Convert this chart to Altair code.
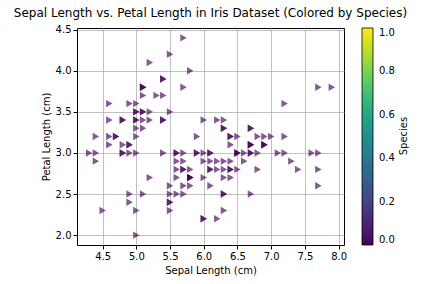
import altair as alt
import pandas as pd

sepal_length = [
    5.1, 4.9, 4.7, 4.6, 5.0, 5.4, 4.6, 5.0, 4.4, 4.9, 5.4, 4.8, 4.8, 4.3, 5.8, 5.7, 5.4, 5.1, 5.7, 5.1,
    5.4, 5.1, 4.6, 5.1, 4.8, 5.0, 5.0, 5.2, 5.2, 4.7, 4.8, 5.4, 5.2, 5.5, 4.9, 5.0, 5.5, 4.9, 4.4, 5.1,
    5.0, 4.5, 4.4, 5.0, 5.1, 4.8, 5.1, 4.6, 5.3, 5.0,
    7.0, 6.4, 6.9, 5.5, 6.5, 5.7, 6.3, 4.9, 6.6, 5.2, 5.0, 5.9, 6.0, 6.1, 5.6, 6.7, 5.6, 5.8, 6.2, 5.6,
    5.9, 6.1, 6.3, 6.1, 6.4, 6.6, 6.8, 6.7, 6.0, 5.7, 5.5, 5.5, 5.8, 6.0, 5.4, 6.0, 6.7, 6.3, 5.6, 5.5,
    5.5, 6.1, 5.8, 5.0, 5.6, 5.7, 5.7, 6.2, 5.1, 5.7,
    6.3, 5.8, 7.1, 6.3, 6.5, 7.6, 4.9, 7.3, 6.7, 7.2, 6.5, 6.4, 6.8, 5.7, 5.8, 6.4, 6.5, 7.7, 7.7, 6.0,
    6.9, 5.6, 7.7, 6.3, 6.7, 7.2, 6.2, 6.1, 6.4, 7.2, 7.4, 7.9, 6.4, 6.3, 6.1, 7.7, 6.3, 6.4, 6.0, 6.9,
    6.7, 6.9, 5.8, 6.8, 6.7, 6.7, 6.3, 6.5, 6.2, 5.9,
]
sepal_width = [
    3.5, 3.0, 3.2, 3.1, 3.6, 3.9, 3.4, 3.4, 2.9, 3.1, 3.7, 3.4, 3.0, 3.0, 4.0, 4.4, 3.9, 3.5, 3.8, 3.8,
    3.4, 3.7, 3.6, 3.3, 3.4, 3.0, 3.4, 3.5, 3.4, 3.2, 3.1, 3.4, 4.1, 4.2, 3.1, 3.2, 3.5, 3.6, 3.0, 3.4,
    3.5, 2.3, 3.2, 3.5, 3.8, 3.0, 3.8, 3.2, 3.7, 3.3,
    3.2, 3.2, 3.1, 2.3, 2.8, 2.8, 3.3, 2.4, 2.9, 2.7, 2.0, 3.0, 2.2, 2.9, 2.9, 3.1, 3.0, 2.7, 2.2, 2.5,
    3.2, 2.8, 2.5, 2.8, 2.9, 3.0, 2.8, 3.0, 2.9, 2.6, 2.4, 2.4, 2.7, 2.7, 3.0, 3.4, 3.1, 2.3, 3.0, 2.5,
    2.6, 3.0, 2.6, 2.3, 2.7, 3.0, 2.9, 2.9, 2.5, 2.8,
    3.3, 2.7, 3.0, 2.9, 3.0, 3.0, 2.5, 2.9, 2.5, 3.6, 3.2, 2.7, 3.0, 2.5, 2.8, 3.2, 3.0, 3.8, 2.6, 2.2,
    3.2, 2.8, 2.8, 2.7, 3.3, 3.2, 2.8, 3.0, 2.8, 3.0, 2.8, 3.8, 2.8, 2.8, 2.6, 3.0, 3.4, 3.1, 3.0, 3.1,
    3.1, 3.1, 2.7, 3.2, 3.3, 3.0, 2.5, 3.0, 3.4, 3.0,
]
species_code = [0] * len(sepal_length)

x_ticks = [4.5, 5.0, 5.5, 6.0, 6.5, 7.0, 7.5, 8.0]
y_ticks = [2.0, 2.5, 3.0, 3.5, 4.0, 4.5]
cbar_ticks = [0.0, 0.2, 0.4, 0.6, 0.8, 1.0]
cbar_title = ["Species"]

df = pd.DataFrame({"x": sepal_length, "y": sepal_width, "c": species_code})

font = "DejaVu Sans"

points = alt.Chart(df).mark_point(
    shape="triangle-right", filled=True, size=55, opacity=0.65, strokeWidth=0
).encode(
    x=alt.X("x:Q", scale=alt.Scale(domain=[4.12, 8.08], nice=False, zero=False),
            axis=alt.Axis(title="Sepal Length (cm)", values=x_ticks, format=".1f")),
    y=alt.Y("y:Q", scale=alt.Scale(domain=[1.88, 4.52], nice=False, zero=False),
            axis=alt.Axis(title="Petal Length (cm)", values=y_ticks, format=".1f")),
    color=alt.Color("c:Q", scale=alt.Scale(scheme="viridis", domain=[0, 1]),
                    legend=alt.Legend(title=None, orient="none", legendX=285, legendY=0,
                                      direction="vertical", gradientLength=217,
                                      gradientThickness=11, values=cbar_ticks, format=".1f",
                                      gradientOpacity=1,
                                      labelFont=font, labelFontSize=10, labelColor="black",
                                      labelOffset=6, gradientStrokeWidth=0.8,
                                      gradientStrokeColor="black")),
)

title_text = alt.Chart(pd.DataFrame({"t": cbar_title})).mark_text(
    angle=270, font=font, fontSize=10, color="black", align="center", baseline="middle"
).encode(text="t:N", x=alt.value(327), y=alt.value(108))

chart = alt.layer(points, title_text).properties(
    width=267, height=217,
    title=alt.Title("Sepal Length vs. Petal Length in Iris Dataset (Colored by Species)",
                    font=font, fontSize=12, fontWeight="normal", color="black", offset=5),
    autosize=alt.AutoSizeParams(type="none"),
    padding={"left": 77, "top": 28, "right": 80, "bottom": 39},
).configure_view(
    stroke="black", strokeWidth=1
).configure_axis(
    grid=True, gridColor="#b0b0b0", gridWidth=0.8,
    domain=False, tickColor="black", tickSize=4,
    labelFont=font, labelFontSize=10, labelColor="black",
    titleFont=font, titleFontSize=10, titleFontWeight="normal", titleColor="black",
)

chart.save("out.html", embed_options={"renderer": "svg", "actions": False})
